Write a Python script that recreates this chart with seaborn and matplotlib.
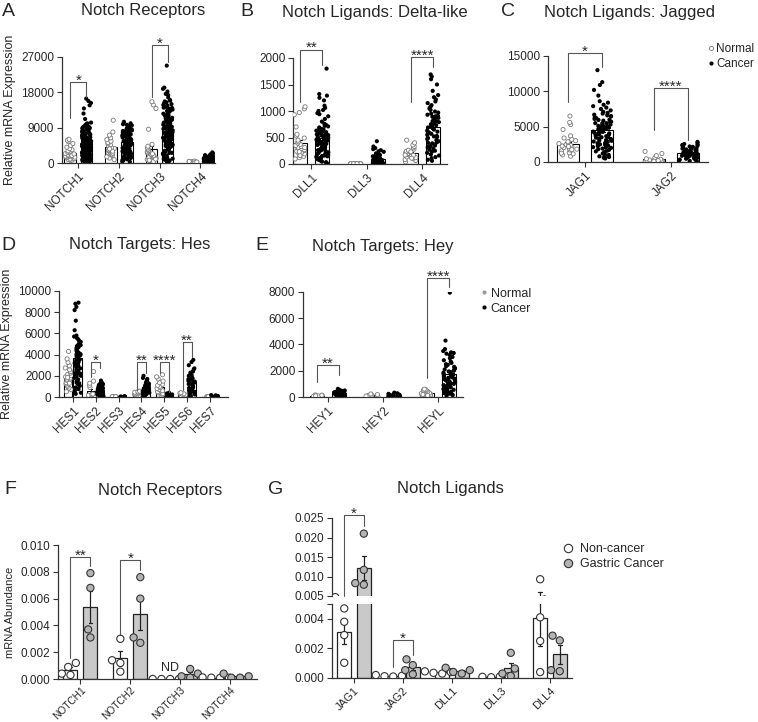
import numpy as np
import pandas as pd
import matplotlib
matplotlib.use("Agg")
import matplotlib.pyplot as plt
from matplotlib.lines import Line2D
from matplotlib.ticker import FormatStrFormatter
import seaborn as sns

sns.set_style("ticks")
plt.rcParams["font.family"] = ["Liberation Sans", "DejaVu Sans"]
np.random.seed(3)

# ---------------- data ----------------
# A: receptors
receptors = ["NOTCH1", "NOTCH2", "NOTCH3", "NOTCH4"]
notch1_normal = [620, 780, 900, 1020, 1150, 1240, 1330, 1460, 1580, 1690, 1770, 1850, 1960, 2080, 2170,
                 2290, 2410, 2530, 2700, 2880, 3120, 3380, 3650, 4020, 4490, 4950, 5450, 5800, 6050,
                 1100, 1500, 1900, 2300]
notch1_cancer = [380, 540, 660, 810, 950, 1090, 1230, 1400, 1560, 1720, 1880, 2050, 2210, 2380, 2540, 2720,
                 2900, 3070, 3260, 3440, 3610, 3800, 4010, 4190, 4400, 4620, 4830, 5060, 5290, 5530, 5770,
                 6020, 6280, 6540, 6810, 7090, 7380, 7670, 7980, 8300, 8620, 8950, 9280, 9600, 1650, 2630,
                 3520, 4480, 5410, 6350, 7240, 8760, 10300, 11200, 12600, 13900, 14700, 15300, 15800, 16400,
                 450, 610, 760, 930, 1110, 1290, 1470, 1640, 1810, 1990, 2160, 2330, 2490, 2660, 2840, 3010,
                 3190, 3370, 3550, 3730, 3920, 4110, 4300, 4500, 4710, 4920, 5140, 5370, 5600, 5840, 6090,
                 6350, 6620, 6900, 7190, 7500, 7820, 8150, 8500, 8850, 9200, 9550, 9900, 10100, 700, 1400,
                 2100, 2950, 3650, 4350, 5150, 6150, 7450, 9050]
notch2_normal = [850, 1250, 1600, 1900, 2150, 2380, 2600, 2790, 2980, 3160, 3340, 3520, 3710, 3900, 4120,
                 4350, 4600, 4880, 5200, 5550, 5930, 6400, 7100, 7900, 10900, 2500, 3000, 3600]
notch2_cancer = [420, 760, 1080, 1390, 1680, 1960, 2230, 2490, 2750, 3000, 3240, 3480, 3710, 3950, 4180,
                 4410, 4640, 4870, 5100, 5330, 5560, 5790, 6020, 6260, 6500, 6740, 6990, 7240, 7490, 7750,
                 8010, 8280, 8560, 8840, 9130, 9430, 9740, 10100, 10500, 2860, 3830, 4760, 5640, 6580, 7610,
                 8430, 300, 650, 950, 1250, 1550, 1850, 2100, 2350, 2620, 2880, 3120, 3360, 3600, 3830, 4060,
                 4300, 4520, 4760, 4990, 5220, 5450, 5680, 5910, 6140, 6380, 6620, 6860, 7110, 7360, 7620,
                 7880, 8150, 8420, 8700, 8980, 9280, 9580, 9900, 1500, 2600, 3700, 4900, 6100, 7300, 8600]
notch3_normal = [180, 330, 470, 620, 760, 900, 1050, 1210, 1380, 1560, 1740, 1930, 2140, 2360, 2600, 2870,
                 3150, 3480, 3850, 4270, 4750, 8600, 13900, 14800, 15600, 400, 700, 1000]
notch3_cancer = [310, 640, 980, 1330, 1720, 2060, 2390, 2770, 3120, 3460, 3790, 4160, 4490, 4870, 5210, 5560,
                 5890, 6240, 6620, 6960, 7310, 7640, 8020, 8340, 8710, 9060, 9390, 9760, 10120, 10440, 10810,
                 11140, 11520, 11870, 12190, 12560, 12880, 13260, 13610, 14020, 14380, 14790, 15230, 15680,
                 16050, 16700, 17300, 18200, 18900, 24800, 4620, 6130, 7790, 9230, 10980, 150, 480, 820,
                 1160, 1510, 1890, 2230, 2580, 2940, 3290, 3620, 3980, 4330, 4690, 5040, 5390, 5730, 6070,
                 6430, 6790, 7140, 7480, 7830, 8180, 8530, 8880, 9230, 9580, 9930, 10280, 10630, 10980,
                 11330, 11690, 12040, 12380, 12720, 13080, 13430, 13800, 14200, 14590, 15000, 15450, 15900,
                 1100, 2600, 4000, 5300, 6800, 8200, 9600, 11000, 12500, 14100, 17600, 19200]
notch4_normal = [40, 70, 110, 140, 170, 200, 230, 260, 290, 330, 370, 420, 480, 100, 250]
notch4_cancer = [90, 180, 270, 360, 450, 530, 610, 690, 770, 850, 930, 1010, 1090, 1170, 1260, 1350, 1450,
                 1560, 1680, 1820, 1980, 2200, 2450, 2700, 880, 1130, 640, 150, 320, 480, 560, 720, 820, 960,
                 1050, 1200, 1300, 1400, 1500, 1620, 1750, 1900, 420, 980]

# B: delta-like
deltas = ["DLL1", "DLL3", "DLL4"]
dll1_normal = [95, 120, 145, 170, 190, 205, 220, 240, 255, 270, 285, 300, 315, 330, 350, 370, 395, 420, 450,
               490, 530, 560, 700, 930, 970, 1040, 1080, 160, 230, 310]
dll1_cancer = [20, 45, 70, 95, 120, 145, 170, 195, 220, 245, 270, 295, 320, 345, 370, 395, 420, 445, 470, 495,
               520, 545, 570, 600, 630, 660, 690, 720, 760, 800, 850, 900, 960, 1020, 1100, 1200, 1250, 1290,
               1320, 1800, 150, 260, 380, 470, 560, 650, 10, 35, 60, 85, 110, 135, 160, 185, 210, 235, 260,
               285, 310, 335, 360, 385, 410, 435, 460, 485, 510, 535, 560, 590, 620, 650, 680, 710, 740, 200,
               300, 400, 500, 600, 1000, 1060, 940]
dll3_normal = [1, 2, 3, 3, 4, 5, 6, 7, 8, 10, 2, 4, 6]
dll3_cancer = [2, 5, 9, 14, 20, 27, 35, 44, 54, 65, 78, 92, 108, 125, 145, 170, 200, 240, 280, 330, 430, 12,
               30, 60, 1, 4, 7, 11, 16, 22, 30, 40, 50, 62, 75, 88, 100, 115, 135, 160, 190, 230, 260, 300,
               20, 45]
dll4_normal = [40, 65, 85, 105, 120, 135, 150, 165, 180, 195, 210, 225, 240, 260, 280, 305, 330, 360, 400, 450,
               110, 170, 230]
dll4_cancer = [60, 110, 160, 210, 250, 290, 330, 370, 410, 450, 490, 530, 570, 610, 650, 690, 730, 770, 810,
               850, 890, 930, 970, 1020, 1080, 1150, 1220, 1300, 1380, 1500, 1600, 1650, 1690, 340, 520, 700,
               80, 130, 180, 230, 270, 310, 350, 390, 430, 470, 510, 550, 590, 630, 670, 710, 750, 790, 830,
               870, 910, 950, 990, 1050, 1110, 1180, 1260, 400, 600, 800, 900]

# C: jagged
jaggeds = ["JAG1", "JAG2"]
jag1_normal = [820, 1000, 1150, 1300, 1450, 1580, 1700, 1820, 1930, 2040, 2150, 2260, 2370, 2480, 2600, 2730,
               2870, 3020, 3200, 3400, 3700, 4600, 5300, 5600, 6500, 1250, 1750, 2200]
jag1_cancer = [500, 700, 900, 1100, 1300, 1500, 1700, 1900, 2100, 2300, 2500, 2700, 2900, 3100, 3300, 3500,
               3700, 3900, 4100, 4300, 4500, 4700, 4900, 5100, 5300, 5500, 5700, 5950, 6200, 6450, 6700, 6950,
               7300, 7700, 8100, 8600, 9400, 10200, 10900, 11300, 13000, 2000, 3000, 4000, 5000, 6000, 600,
               800, 1000, 1200, 1400, 1600, 1800, 2050, 2250, 2450, 2650, 2850, 3050, 3250, 3450, 3650, 3850,
               4050, 4250, 4450, 4650, 4850, 5050, 5250, 5450, 5650, 5850, 6100, 6350, 6600, 6850, 7100, 7500,
               7900, 8400, 2500, 3500, 4500, 5500, 6500]
jag2_normal = [40, 70, 100, 130, 160, 190, 220, 250, 290, 330, 380, 450, 600, 900, 1200, 1500, 120, 200]
jag2_cancer = [100, 220, 340, 460, 580, 700, 820, 940, 1060, 1180, 1300, 1420, 1540, 1660, 1780, 1900, 2020,
               2140, 2260, 2400, 2550, 2700, 2850, 800, 1100, 1400, 1700, 150, 280, 400, 520, 640, 760, 880,
               1000, 1120, 1240, 1360, 1480, 1600, 1720, 1840, 1960, 2080, 2200, 2330, 2470, 600, 900, 1200,
               1500]

# D: Hes
hes = ["HES1", "HES2", "HES3", "HES4", "HES5", "HES6", "HES7"]
hes_normal = [
    [500, 700, 850, 1000, 1120, 1240, 1350, 1460, 1570, 1680, 1790, 1900, 2010, 2130, 2260, 2400, 2560, 2740,
     2950, 3250, 3600, 4300, 1300, 1850],
    [20, 50, 80, 110, 140, 170, 200, 240, 280, 900, 1100, 1300, 1500, 2400],
    [5, 10, 15, 20, 25, 30, 40],
    [150, 200, 250, 300, 350, 400, 450, 500, 550],
    [100, 200, 300, 400, 500, 600, 700, 800, 900, 1000, 1100, 1200, 1350, 1500, 1700, 1900, 2100],
    [150, 200, 250, 300, 350, 400],
    [10, 20, 30, 40, 50, 60],
]
hes_cancer = [
    [300, 600, 900, 1200, 1500, 1800, 2050, 2300, 2550, 2800, 3050, 3300, 3550, 3800, 4050, 4300, 4550, 4800,
     5050, 5300, 5550, 5800, 6300, 7200, 8200, 8500, 8800, 8900, 1300, 2200, 3100, 4000, 4900, 400, 750, 1050,
     1350, 1650, 1950, 2200, 2450, 2700, 2950, 3200, 3450, 3700, 3950, 4200, 4450, 4700, 4950, 5200, 5450,
     5700, 2000, 3000, 4600],
    [50, 120, 190, 260, 330, 400, 470, 540, 610, 680, 750, 820, 900, 980, 1060, 1150, 1250, 1400, 1550, 700, 500,
     80, 160, 230, 300, 370, 440, 510, 580, 650, 720, 800, 870, 950, 1030, 1100, 1200, 1320],
    [5, 10, 15, 20, 25, 30, 40, 50, 60],
    [150, 250, 350, 450, 550, 650, 750, 850, 950, 1050, 1150, 1250, 1350, 1450, 1600, 1800, 2000, 200, 300, 400,
     500, 600, 700, 800, 900, 1000, 1100, 1200, 1300, 1500, 1700],
    [20, 50, 80, 110, 140, 170, 200, 240, 280, 330, 400],
    [100, 250, 400, 550, 700, 850, 1000, 1150, 1300, 1450, 1600, 1750, 1900, 2050, 2200, 2400, 2700, 3000,
     3300, 3500, 180, 320, 480, 620, 780, 920, 1080, 1220, 1380, 1520, 1680, 1820, 2000, 2300, 2600],
    [20, 40, 60, 80, 100, 120, 150, 180],
]

# E: Hey
hey = ["HEY1", "HEY2", "HEYL"]
hey_normal = [
    [20, 40, 60, 80, 100, 120, 140, 160, 50, 90],
    [30, 60, 90, 120, 150, 180, 230, 70],
    [50, 80, 110, 140, 170, 200, 230, 260, 300, 350, 420, 480, 520, 560, 600, 120, 190],
]
hey_cancer = [
    [30, 70, 110, 150, 190, 230, 270, 310, 350, 400, 450, 500, 550, 620, 50, 90, 130, 170, 210, 250, 290, 330,
     380, 430, 480],
    [20, 50, 80, 110, 140, 170, 200, 240, 280, 330, 60, 120, 180],
    [100, 200, 300, 400, 500, 600, 700, 800, 900, 1000, 1100, 1200, 1300, 1400, 1500, 1600, 1700, 1800, 1900,
     2000, 2100, 2200, 2350, 2500, 2700, 2950, 3200, 3350, 3500, 3650, 4300, 7950, 650, 1050, 1450, 1850, 150,
     250, 350, 450, 550, 750, 850, 950, 1150, 1250, 1350, 1550, 1650, 1750, 1950, 2050, 2150, 2300, 2450, 2600,
     2800, 3050, 3300, 3400],
]

# F: qPCR receptors (4 samples each)
f_genes = ["NOTCH1", "NOTCH2", "NOTCH3", "NOTCH4"]
f_noncancer = [[0.0012, 0.0009, 0.0004, 0.0003], [0.0030, 0.0014, 0.0012, 0.00055],
               [0.0, 0.0, 0.0, 0.0], [0.00008, 0.0001, 0.00012, 0.0001]]
f_cancer = [[0.0079, 0.0068, 0.0037, 0.0031], [0.0076, 0.0060, 0.0031, 0.0027],
            [0.00075, 0.0004, 0.0002, 0.0001], [0.0004, 0.0002, 0.0001, 0.0001]]

# G: qPCR ligands
g_genes = ["JAG1", "JAG2", "DLL1", "DLL3", "DLL4"]
g_noncancer = [[0.0047, 0.0038, 0.0029, 0.00103], [0.0001, 0.00012, 0.00015, 0.0002],
               [0.00045, 0.0004, 0.00035, 0.0003], [0.00005, 0.00008, 0.0001, 0.00012],
               [0.0093, 0.0041, 0.0025, 0.0004]]
g_cancer = [[0.0210, 0.0117, 0.0083, 0.0079], [0.00126, 0.00087, 0.00053, 0.00025],
            [0.00069, 0.00053, 0.00041, 0.0003], [0.0017, 0.00064, 0.0003, 0.00014],
            [0.00286, 0.00254, 0.00053, 0.00046]]

# significance brackets: (gene index, top, left leg end, right leg end, label)
sig_a = [(0, 20600, 11500, 16800, "*"), (2, 30000, 16800, 25700, "*")]
sig_b = [(0, 2160, 1170, 1870, "**"), (2, 2020, 1170, 1830, "****")]
sig_c = [(0, 15400, 8500, 13400, "*"), (1, 10500, 4500, 3100, "****")]
sig_d = [(1, 3300, 1900, 2700, "*"), (3, 3300, 660, 2260, "**"), (4, 3300, 2260, 470, "****"),
         (5, 5200, 660, 3770, "**")]
sig_e = [(0, 2440, 1140, 1680, "**"), (2, 9070, 1450, 8400, "****")]
sig_f = [(0, 0.0091, 0.0016, 0.0084, "**"), (1, 0.0089, 0.0033, 0.0081, "*")]
sig_g_top = [(0, 0.0257, 0.005, 0.0229, "*")]
sig_g_bot = [(1, 0.00254, 0.00075, 0.00155, "*")]


def long_df(genes, normal, cancer, labels):
    rows = []
    for g, n, c in zip(genes, normal, cancer):
        rows += [(g, labels[0], v) for v in n]
        rows += [(g, labels[1], v) for v in c]
    return pd.DataFrame(rows, columns=["gene", "group", "value"])


def style_ax(ax, xlim, yticks, fmt=None, xsize=8.5):
    sns.despine(ax=ax)
    ax.set_xlim(*xlim)
    ax.set_ylim(yticks[0], yticks[-1])
    ax.set_yticks(yticks)
    if fmt:
        ax.yaxis.set_major_formatter(FormatStrFormatter(fmt))
    ax.set_xlabel("")
    ax.set_ylabel("")
    ax.tick_params(direction="out", length=3.5, width=0.8, labelsize=8.5, pad=2, color="#333333")
    ax.tick_params(axis="x", labelsize=xsize)
    for lbl in ax.get_xticklabels():
        lbl.set_rotation(45)
        lbl.set_ha("right")
        lbl.set_rotation_mode("anchor")
    for s in ax.spines.values():
        s.set_linewidth(0.9)
        s.set_color("#333333")


def bracket(ax, i, top, left, right, label):
    x1, x2 = i - 0.2, i + 0.2
    ax.plot([x1, x1, x2, x2], [left, top, top, right], color="#555555", lw=0.8, clip_on=False, zorder=4)
    ax.annotate(label, ((x1 + x2) / 2, top), xytext=(0, -4), textcoords="offset points",
                ha="center", va="bottom", fontsize=11, annotation_clip=False)


def scatter_panel(ax, genes, normal, cancer, gap, jitter, xlim, yticks, sig):
    df = long_df(genes, normal, cancer, ("Normal", "Cancer"))
    ho = ["Normal", "Cancer"]
    sns.barplot(data=df, x="gene", y="value", hue="group", order=genes, hue_order=ho,
                palette={"Normal": "white", "Cancer": "white"}, edgecolor="black", linewidth=0.8,
                width=0.8, gap=gap, errorbar="se", capsize=0.15,
                err_kws={"linewidth": 0.8, "color": "black"}, legend=False, ax=ax)
    sns.stripplot(data=df[df.group == "Normal"], x="gene", y="value", hue="group", order=genes,
                  hue_order=ho, dodge=True, jitter=jitter, palette={"Normal": "white", "Cancer": "black"},
                  edgecolor="#7a7a7a", linewidth=0.6, size=3.0, legend=False, zorder=3, ax=ax)
    sns.stripplot(data=df[df.group == "Cancer"], x="gene", y="value", hue="group", order=genes,
                  hue_order=ho, dodge=True, jitter=jitter, palette={"Normal": "white", "Cancer": "black"},
                  linewidth=0, size=3.0, legend=False, zorder=3, ax=ax)
    style_ax(ax, xlim, yticks)
    for s in sig:
        bracket(ax, *s)


def qpcr_panel(ax, genes, noncancer, cancer, xlim, yticks, fmt, xsize=8):
    df = long_df(genes, noncancer, cancer, ("Non-cancer", "Gastric Cancer"))
    ho = ["Non-cancer", "Gastric Cancer"]
    sns.barplot(data=df, x="gene", y="value", hue="group", order=genes, hue_order=ho,
                palette={"Non-cancer": "white", "Gastric Cancer": "#c9c9c9"}, edgecolor="#222222",
                linewidth=0.9, width=0.8, gap=0.3, errorbar="se", capsize=0.15,
                err_kws={"linewidth": 0.9, "color": "#222222"}, legend=False, ax=ax)
    sns.swarmplot(data=df, x="gene", y="value", hue="group", order=genes, hue_order=ho, dodge=True,
                  palette={"Non-cancer": "white", "Gastric Cancer": "#b3b3b3"}, edgecolor="#333333",
                  linewidth=0.8, size=5.2, legend=False, zorder=3, ax=ax)
    style_ax(ax, xlim, yticks, fmt, xsize=xsize)


W, H = 758, 722
fig = plt.figure(figsize=(W / 100, H / 100), dpi=100)


def add_ax(l, t, r, b):
    return fig.add_axes([l / W, 1 - b / H, (r - l) / W, (b - t) / H])


def ftext(x, y, s, size):
    fig.text(x / W, 1 - y / H, s, ha="center", va="center", fontsize=size)


# A
axA = add_ax(62, 57, 215, 163)
scatter_panel(axA, receptors, [notch1_normal, notch2_normal, notch3_normal, notch4_normal],
              [notch1_cancer, notch2_cancer, notch3_cancer, notch4_cancer],
              0.3, 0.24, (-0.4, 3.36), [0, 9000, 18000, 27000], sig_a)
axA.set_ylabel("Relative mRNA Expression", fontsize=9, labelpad=4)

# B
axB = add_ax(293, 58, 447, 164)
scatter_panel(axB, deltas, [dll1_normal, dll3_normal, dll4_normal], [dll1_cancer, dll3_cancer, dll4_cancer],
              0.375, 0.22, (-0.33, 2.45), [0, 500, 1000, 1500, 2000], sig_b)

# C
axC = add_ax(548, 56, 708, 162)
scatter_panel(axC, jaggeds, [jag1_normal, jag2_normal], [jag1_cancer, jag2_cancer],
              0.375, 0.22, (-0.43, 1.43), [0, 5000, 10000, 15000], sig_c)
hC = [Line2D([], [], ls="", marker="o", ms=3, mfc="white", mec="#7a7a7a", mew=0.6),
      Line2D([], [], ls="", marker="o", ms=3, mfc="black", mec="black", mew=0)]
axC.legend(hC, ["Normal", "Cancer"], loc="upper left", bbox_to_anchor=(0.97, 1.17), frameon=False,
           fontsize=8.5, handlelength=0.5, handletextpad=0.2, labelspacing=0.25, borderaxespad=0)

# D
axD = add_ax(59, 291, 228, 397)
scatter_panel(axD, hes, hes_normal, hes_cancer, 0.1, 0.3, (-0.61, 6.79),
              [0, 2000, 4000, 6000, 8000, 10000], sig_d)
axD.set_ylabel("Relative mRNA Expression", fontsize=9, labelpad=4)

# E
axE = add_ax(303, 292, 463, 397)
scatter_panel(axE, hey, hey_normal, hey_cancer, 0.35, 0.22, (-0.45, 2.45), [0, 2000, 4000, 6000, 8000], sig_e)
hE = [Line2D([], [], ls="", marker="o", ms=3, mfc="#9a9a9a", mec="#9a9a9a", mew=0),
      Line2D([], [], ls="", marker="o", ms=3, mfc="black", mec="black", mew=0)]
axE.legend(hE, ["Normal", "Cancer"], loc="upper left", bbox_to_anchor=(1.08, 1.09), frameon=False,
           fontsize=9, handlelength=0.5, handletextpad=0.3, labelspacing=0.25, borderaxespad=0)

# F
axF = add_ax(58, 545, 257, 679)
qpcr_panel(axF, f_genes, f_noncancer, f_cancer, (-0.45, 3.54),
           [0, 0.002, 0.004, 0.006, 0.008, 0.010], "%.3f", xsize=7.3)
axF.tick_params(axis="x", pad=1)
axF.set_ylabel("mRNA Abundance", fontsize=8, labelpad=4)
for s in sig_f:
    bracket(axF, *s)
axF.text(1.8, 0.0004, "ND", ha="center", va="bottom", fontsize=9)

# G (broken axis)
axGt = add_ax(332, 518, 572, 596)
axGb = add_ax(332, 604, 572, 678)
qpcr_panel(axGt, g_genes, g_noncancer, g_cancer, (-0.45, 4.45),
           [0.005, 0.010, 0.015, 0.020, 0.025], "%.3f")
qpcr_panel(axGb, g_genes, g_noncancer, g_cancer, (-0.45, 4.45), [0, 0.002, 0.004, 0.005], "%.3f")
axGb.set_yticks([0, 0.002, 0.004, 0.005])
axGb.set_yticklabels(["0.000", "0.002", "0.004", ""])
axGt.spines["bottom"].set_visible(False)
axGt.tick_params(axis="x", bottom=False, labelbottom=False)
for s in sig_g_top:
    bracket(axGt, *s)
for s in sig_g_bot:
    bracket(axGb, *s)
hG = [Line2D([], [], ls="", marker="o", ms=6, mfc="white", mec="#333333", mew=0.8),
      Line2D([], [], ls="", marker="o", ms=6, mfc="#b3b3b3", mec="#333333", mew=0.8)]
axGt.legend(hG, ["Non-cancer", "Gastric Cancer"], loc="upper left", bbox_to_anchor=(0.94, 0.74),
            frameon=False, fontsize=9, handlelength=0.8, handletextpad=0.6, labelspacing=0.25,
            borderaxespad=0)

# titles and panel letters
for x, y, s in [(143, 11, "Notch Receptors"), (375, 12, "Notch Ligands: Delta-like"),
                (630, 12, "Notch Ligands: Jagged"), (140, 245, "Notch Targets: Hes"),
                (383, 246, "Notch Targets: Hey"), (160, 490, "Notch Receptors"), (450, 489, "Notch Ligands")]:
    ftext(x, y, s, 12)
for x, y, s in [(8, 12, "A"), (247, 12, "B"), (508, 12, "C"), (8, 245, "D"), (262, 245, "E"),
                (10, 490, "F"), (276, 490, "G")]:
    ftext(x, y, s, 14)

fig.savefig("out.png", dpi=100)
